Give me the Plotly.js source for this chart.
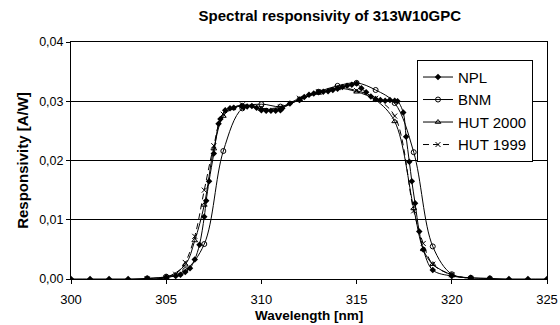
<!DOCTYPE html>
<html><head><meta charset="utf-8">
<script src="https://cdn.plot.ly/plotly-3.0.1.min.js"></script>
<style>body{margin:0;background:#fff}#c{width:560px;height:325px}</style>
</head><body><div id="c"></div>
<script>
const nplX = [300,301,302,303,304,305,305.5,305.75,306,306.25,306.5,306.75,307,307.1,307.25,307.5,307.75,307.85,308.1,308.35,308.55,308.95,309.05,309.25,309.5,309.75,310,310.25,310.5,310.75,311,311.1,311.5,312,312.25,312.5,312.75,313,313.25,313.5,313.75,314,314.25,314.5,314.75,315,315.25,315.5,315.75,316,316.25,316.5,316.75,317,317.15,317.45,317.6,317.77,317.9,318.07,318.29,318.5,319,320,321,322,323,324,325];
const nplY = [0,0,0,0,0.0001,0.0003,0.0005,0.0007,0.0012,0.0018,0.0033,0.0058,0.0105,0.0132,0.0165,0.0212,0.0262,0.027,0.0285,0.0288,0.0289,0.0292,0.029,0.0291,0.0292,0.0289,0.0285,0.0284,0.0284,0.0284,0.0285,0.0288,0.0296,0.0302,0.0307,0.0311,0.0313,0.0315,0.0316,0.0317,0.0319,0.0321,0.0324,0.0326,0.0328,0.033,0.0322,0.0315,0.0308,0.0304,0.0302,0.0301,0.0302,0.0301,0.03,0.0281,0.024,0.0198,0.0165,0.0128,0.008,0.005,0.0015,0.0005,0.0002,0.0001,0,0,0];
const bnmX = [304,305,306,307,308,309,310,311,312,313,314,315,316,317,318,319,320,321,322];
const bnmY = [0.0001,0.0004,0.0015,0.0059,0.0216,0.0288,0.0295,0.0291,0.0303,0.0316,0.0326,0.0331,0.0319,0.0297,0.0214,0.0055,0.0008,0.0002,0.0001];
const hut2000X = [304,305,306,306.5,307,307.5,308,308.5,309,310,311,312,313,314,315,316,317,318,318.5,319,320,321];
const hut2000Y = [0,0.0003,0.0024,0.0065,0.0125,0.022,0.0275,0.0288,0.0293,0.0287,0.0288,0.0303,0.0314,0.0322,0.0316,0.0302,0.0266,0.0119,0.005,0.0025,0.0007,0.0001];
const hut1999X = [304,305,305.5,306,306.5,307,307.5,308,309,310,311,312,313,314,315,316,317,318,318.5,319,320,321];
const hut1999Y = [0,0.0002,0.0008,0.0028,0.0072,0.015,0.0225,0.0278,0.0294,0.0288,0.029,0.0305,0.0316,0.0323,0.0318,0.0305,0.0275,0.0115,0.006,0.0025,0.0007,0.0001];
const xTitle = 'Wavelength [nm]';

const F = '"Liberation Sans", Arial, sans-serif';
const ln = (dash) => ({color:'#000', width:1, shape:'spline', smoothing:1, dash:dash});
const traces = [
  {x:nplX, y:nplY, name:'NPL', mode:'lines+markers', line:ln('solid'),
   marker:{symbol:'diamond', size:5, color:'#000'}},
  {x:bnmX, y:bnmY, name:'BNM', mode:'lines+markers', line:ln('solid'),
   marker:{symbol:'circle-open', size:5, color:'#000', line:{width:1}}},
  {x:hut2000X, y:hut2000Y, name:'HUT 2000', mode:'lines+markers', line:ln('solid'),
   marker:{symbol:'triangle-up-open', size:5, color:'#000', line:{width:1}}},
  {x:hut1999X, y:hut1999Y, name:'HUT 1999', mode:'lines+markers', line:ln('6px,4px'),
   marker:{symbol:'x-thin-open', size:5, color:'#000', line:{width:1}}}
];
const layout = {
  width:560, height:325,
  margin:{l:71, r:13, t:42, b:46},
  paper_bgcolor:'#fff', plot_bgcolor:'#fff',
  separators:', ',
  font:{family:F, size:12, color:'#000'},
  showlegend:true,
  title:{text:'<b>Spectral responsivity of 313W10GPC</b>', font:{family:F, size:15, color:'#000'},
         x:0.589, xanchor:'center', y:0.952, yanchor:'middle'},
  xaxis:{range:[300,325], tickvals:[300,305,310,315,320,325], ticks:'outside', ticklen:4,
         tickcolor:'#000', showgrid:false, zeroline:false, showline:true, linecolor:'#000', linewidth:1,
         mirror:true, ticklabelstandoff:4, tickfont:{family:F, size:13}},
  yaxis:{range:[0,0.04], tickvals:[0,0.01,0.02,0.03,0.04], tickformat:'.2f', ticks:'outside', ticklen:4,
         tickcolor:'#000', showgrid:true, gridcolor:'#000', gridwidth:1, zeroline:false,
         showline:true, linecolor:'#000', linewidth:1, mirror:true, tickfont:{family:F, size:12.5},
         title:{text:'<b>Responsivity [A/W]</b>', font:{family:F, size:15}, standoff:6}},
  annotations:[{text:'<b>'+xTitle+'</b>', xref:'paper', yref:'paper', x:0.5, y:-0.152,
                xanchor:'center', yanchor:'middle', showarrow:false, font:{family:F, size:13.5, color:'#000'}}],
  legend:{x:0.9706, y:0.925, xanchor:'right', yanchor:'top', bgcolor:'#fff', bordercolor:'#000',
          borderwidth:1, font:{family:F, size:15}, itemwidth:30, tracegroupgap:0}
};
Plotly.newPlot('c', traces, layout, {displayModeBar:false, staticPlot:true});
</script></body></html>
